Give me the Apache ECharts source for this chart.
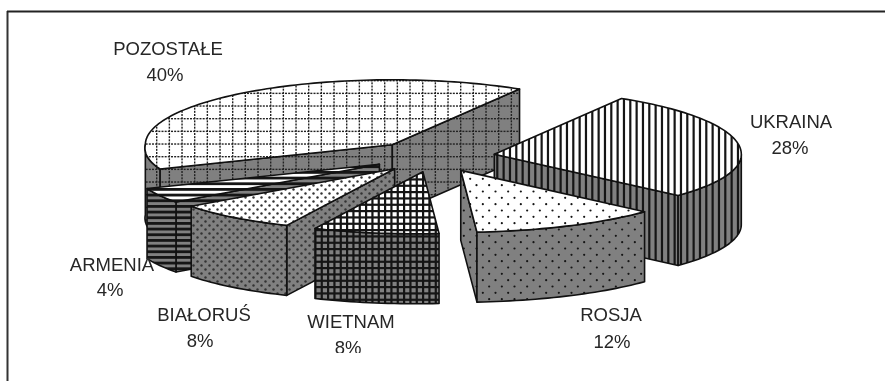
<!DOCTYPE html>
<html>
<head>
<meta charset="utf-8">
<style>html,body{margin:0;padding:0;background:#fff}#chart{width:885px;height:381px}</style>
<script src="https://cdn.jsdelivr.net/npm/echarts@6/dist/echarts.min.js"></script>
</head>
<body>
<div id="chart"></div>
<script>
// Import shares by country of origin, drawn as an exploded 3D pie.
const categories = ['UKRAINA', 'ROSJA', 'WIETNAM', 'BIAŁORUŚ', 'ARMENIA', 'POZOSTAŁE'];
const shares = [28, 12, 8, 8, 4, 40];

// Pie geometry on the page. The far half of the ellipse is a little deeper, the
// near half a little wider and leaning left, which gives the disc its perspective.
const CX = 433, CY = 156.5, RX = 247, RY_FAR = 65, RY_NEAR = 62, NEAR_WIDEN = 0.03, NEAR_LEAN = 6;
const DEPTH = 70, EXPLODE = 62, EXPLODE_Y = 0.25, START_CLOCK = 31;
const WALL = '#808080', INK = '#111111';

// Back-to-front drawing sequence of the slices.
const paintOrder = [5, 4, 3, 0, 2, 1];

// Label centres: [name x, name y, percent x, percent y].
const labelAnchors = [
  [791, 123, 790, 149],
  [611, 316, 612, 343],
  [351, 323, 348, 349],
  [204, 316, 200, 342],
  [112, 266, 110, 291],
  [168, 50, 165, 76]
];

function tile(w, h, bg, draw) {
  const c = document.createElement('canvas');
  c.width = w; c.height = h;
  const g = c.getContext('2d');
  g.fillStyle = bg; g.fillRect(0, 0, w, h);
  g.fillStyle = '#151515';
  draw(g, w, h);
  return { image: c, repeat: 'repeat' };
}

const STEP = 19 / 3;

const hatch = {
  vertical(bg) {
    return tile(19, 19, bg, g => { for (let i = 0; i < 3; i++) g.fillRect(i * STEP + 2.2, 0, 2.2, 19); });
  },
  sparseDots(bg) {
    return tile(38, 38, bg, g => {
      for (let r = 0; r < 6; r++) for (let k = 0; k < 3; k++) {
        g.beginPath();
        g.arc(k * 38 / 3 + (r % 2 ? 19 / 3 : 0) + 1.5, r * STEP + 1.5, 1.1, 0, Math.PI * 2);
        g.fill();
      }
    });
  },
  fineGrid(bg) {
    return tile(19, 19, bg, g => {
      for (let i = 0; i < 3; i++) {
        g.fillRect(i * STEP + 4, 0, 2.2, 19);
        g.fillRect(0, i * STEP + 1, 19, 2.2);
      }
    });
  },
  denseDots(bg) {
    return tile(16, 16, bg, g => {
      g.fillStyle = '#333333';
      for (let r = 0; r < 4; r++) for (let k = 0; k < 2; k++) {
        g.beginPath();
        g.arc(k * 8 + (r % 2 ? 4 : 0) + 1.5, r * 4 + 1.5, 1.2, 0, Math.PI * 2);
        g.fill();
      }
    });
  },
  stripes(bg) {
    return tile(12, 17, bg, g => { for (let i = 0; i < 3; i++) g.fillRect(0, i * 17 / 3 + 1, 12, 2.8); });
  },
  dottedGrid(bg) {
    return tile(38, 38, bg, g => {
      g.fillStyle = '#222222';
      for (let i = 0; i < 3; i++) {
        const p = i * 38 / 3 + 4;
        for (let t = 0; t < 38; t += 38 / 12) {
          g.fillRect(p, t, 1.4, 2);
          g.fillRect(t, p, 2, 1.4);
        }
      }
    });
  }
};

const sliceHatches = ['vertical', 'sparseDots', 'fineGrid', 'denseDots', 'stripes', 'dottedGrid'];

// Clock angles (degrees) of each slice, derived from the shares.
const total = shares.reduce((a, b) => a + b, 0);
let running = START_CLOCK;
const spans = shares.map(v => {
  const from = running;
  running += v / total * 360;
  return [from, running];
});

const rad = d => d * Math.PI / 180;

function rimPoint(cx, cy, clock) {
  const s = Math.sin(rad(clock)), c = Math.cos(rad(clock));
  const near = Math.max(0, -c);
  return [
    cx + RX * s * (1 + NEAR_WIDEN * near) - NEAR_LEAN * near,
    cy - (c > 0 ? RY_FAR : RY_NEAR) * c
  ];
}

function arc(cx, cy, a, b) {
  const pts = [];
  const n = Math.max(2, Math.ceil((b - a) / 1.5));
  for (let i = 0; i <= n; i++) pts.push(rimPoint(cx, cy, a + (b - a) * i / n));
  return pts;
}

const down = p => [p[0], p[1] + DEPTH];

function polygon(points, fill) {
  return {
    type: 'polygon',
    shape: { points },
    style: { fill, stroke: INK, lineWidth: 1.6, lineJoin: 'round' }
  };
}

function renderSlice(params, api) {
  const idx = api.value(0);
  const [a, b] = spans[idx];
  const mid = (a + b) / 2;
  const cx = CX + EXPLODE * Math.sin(rad(mid));
  const cy = CY - EXPLODE * EXPLODE_Y * Math.cos(rad(mid));
  const apex = [cx, cy];
  const kind = hatch[sliceHatches[idx]];
  const topFill = kind('#ffffff');
  const wallFill = kind(WALL);
  const children = [];

  const pA = rimPoint(cx, cy, a);
  const pB = rimPoint(cx, cy, b);

  // Cut faces that turn toward the viewer.
  if (Math.sin(rad(a)) < 0) children.push(polygon([apex, pA, down(pA), down(apex)], wallFill));
  if (Math.sin(rad(b)) > 0) children.push(polygon([apex, pB, down(pB), down(apex)], wallFill));

  // Outer wall: only the part of the rim on the near half of the ellipse.
  const from = Math.max(a, 90), to = Math.min(b, 270);
  if (to > from) {
    const rim = arc(cx, cy, from, to);
    children.push(polygon(rim.concat(rim.slice().reverse().map(down)), wallFill));
  }

  // Top face.
  children.push(polygon([apex].concat(arc(cx, cy, a, b)), topFill));
  return { type: 'group', children };
}

const textStyle = (text, x, y) => ({
  type: 'text',
  z: 10,
  style: {
    text, x, y,
    fill: '#262626',
    font: '18.5px "Liberation Sans", Arial, sans-serif',
    textAlign: 'center',
    textVerticalAlign: 'middle'
  }
});

const labels = [];
categories.forEach((name, i) => {
  const [nx, ny, px, py] = labelAnchors[i];
  labels.push(textStyle(name, nx, ny), textStyle(shares[i] + '%', px, py));
});

const chart = echarts.init(document.getElementById('chart'), null, { renderer: 'canvas' });
chart.setOption({
  animation: false,
  backgroundColor: '#ffffff',
  graphic: {
    elements: [
      { type: 'line', z: 1, shape: { x1: 7.5, y1: 11, x2: 7.5, y2: 381 }, style: { stroke: '#333333', lineWidth: 2 } },
      { type: 'line', z: 1, shape: { x1: 7, y1: 11.5, x2: 885, y2: 11.5 }, style: { stroke: '#222222', lineWidth: 2 } },
      ...labels,
      // The plot area ends just under the lowest labels, cutting off the last line of text.
      { type: 'rect', z: 11, shape: { x: 320, y: 353, width: 60, height: 14 }, style: { fill: '#ffffff' } }
    ]
  },
  series: [{
    type: 'custom',
    coordinateSystem: 'none',
    silent: true,
    renderItem: renderSlice,
    data: paintOrder.map(i => [i, shares[i]])
  }]
});
</script>
</body>
</html>
